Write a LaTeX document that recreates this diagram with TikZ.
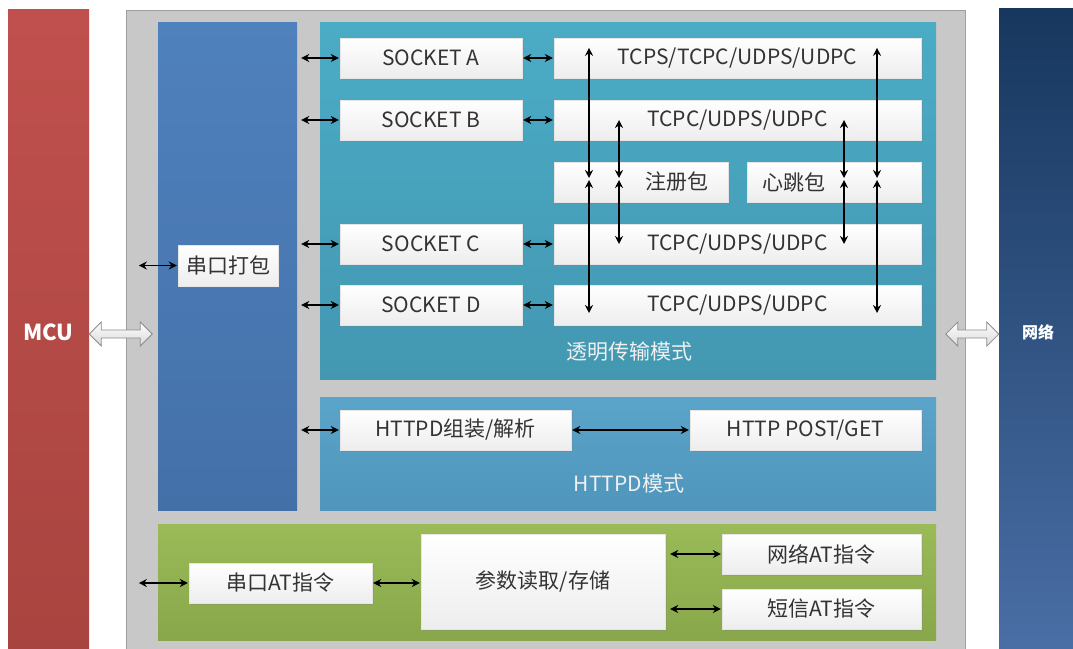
\documentclass[tikz,border=0pt]{standalone}
\usepackage{fontspec}
\setmainfont{Noto Sans CJK SC}
\usetikzlibrary{arrows.meta,calc,shadows}

\definecolor{mcuTop}{HTML}{C0504D}
\definecolor{mcuBot}{HTML}{A8443F}
\definecolor{netTop}{HTML}{17375E}
\definecolor{netBot}{HTML}{4A6FA6}
\definecolor{colTop}{HTML}{4F81BD}
\definecolor{colBot}{HTML}{4470A8}
\definecolor{transTop}{HTML}{4BACC6}
\definecolor{transBot}{HTML}{4397B1}
\definecolor{httpTop}{HTML}{5AA3C9}
\definecolor{httpBot}{HTML}{5096BC}
\definecolor{grnTop}{HTML}{9BBB59}
\definecolor{grnBot}{HTML}{87A74A}
\definecolor{unitGray}{HTML}{C8C8C8}

\begin{document}
\begin{tikzpicture}
[
x = 1pt, y = -1pt,
>={Stealth[length=8pt,width=8pt]},
sz/.style 2 args = {minimum width=#1pt, minimum height=#2pt},
link/.style = {<->, line width=1.5pt, shorten >=1pt, shorten <=1pt},
vlink/.style = {<->, line width=1.5pt},
panel/.style = {inner sep=0pt, text=white},
paneltxt/.style = {text=white!94!black, font=\fontsize{21}{24}\selectfont},
box/.style = {draw=black!10, top color=white, bottom color=black!7, text=black!80,
  inner sep=0pt, font=\fontsize{21}{24}\selectfont,
  drop shadow={opacity=0.25, shadow xshift=1.5pt, shadow yshift=-1.5pt}},
hollow/.style = {draw=black!45, line width=0.8pt, top color=white, bottom color=black!15,
  line join=miter},
]

\useasboundingbox (0,0) rectangle (1073,648);

\node[panel, top color=mcuTop, bottom color=mcuBot, sz={81}{646},
  font=\bfseries\fontsize{22}{24}\selectfont] (mcu) at (48.5,332) {MCU};
\node[panel, top color=netTop, bottom color=netBot, sz={78}{648},
  font=\bfseries\fontsize{16}{18}\selectfont] (net) at (1038,332) {网络};

\node[fill=unitGray, draw=black!38, sz={839}{650}] (unit) at (545.5,335) {};

\coordinate (mid) at (0,334);
\draw[hollow] (mcu.east |- mid) -- ++(12,-12) -- ++(0,8) -- ++(39,0) -- ++(0,-8)
  -- ++(12,12) -- ++(-12,12) -- ++(0,-8) -- ++(-39,0) -- ++(0,8) -- cycle;
\draw[hollow] (net.west |- mid) -- ++(-12,-12) -- ++(0,8) -- ++(-29,0) -- ++(0,-8)
  -- ++(-12,12) -- ++(12,12) -- ++(0,-8) -- ++(29,0) -- ++(0,8) -- cycle;

% serial packing column
\node[panel, top color=colTop, bottom color=colBot, sz={139}{488}] (col) at (227.5,266) {};
\node[box, sz={100}{41}] (pack) at (228,265.5) {串口打包};
\draw[link] ($(pack.west)+(-40,0)$) -- (pack.west);

% transparent mode
\node[panel, top color=transTop, bottom color=transBot, sz={616}{357}] (trans) at (628,200.5) {};
\node[paneltxt] (transTxt) at (629,352) {透明传输模式};

\node[box, sz={182}{40}] (sockA) at (431,58) {SOCKET A};
\node[box, sz={182}{40}] (sockB) at (431,120) {SOCKET B};
\node[box, sz={182}{40}] (sockC) at (431,244) {SOCKET C};
\node[box, sz={182}{40}] (sockD) at (431,305) {SOCKET D};

\node[box, sz={367}{40}] (tcpA) at (737.5,58) {TCPS/TCPC/UDPS/UDPC};
\node[box, sz={367}{40}] (tcpB) at (737.5,120) {TCPC/UDPS/UDPC};
\node[box, sz={367}{40}] (tcpC) at (737.5,244) {TCPC/UDPS/UDPC};
\node[box, sz={367}{40}] (tcpD) at (737.5,305) {TCPC/UDPS/UDPC};

\node[box, sz={174}{40}] (reg) at (641,182) {\hspace*{72pt}注册包};
\node[box, sz={174}{40}] (heart) at (834,182) {心跳包\hspace*{80pt}};

\draw[link] ($(col.east |- sockA)+(3,0)$) -- (sockA.west);
\draw[link] ($(col.east |- sockB)+(3,0)$) -- (sockB.west);
\draw[link] ($(col.east |- sockC)+(3,0)$) -- (sockC.west);
\draw[link] ($(col.east |- sockD)+(3,0)$) -- (sockD.west);

\draw[link] (sockA.east) -- (tcpA.west);
\draw[link] (sockB.east) -- (tcpB.west);
\draw[link] (sockC.east) -- (tcpC.west);
\draw[link] (sockD.east) -- (tcpD.west);

\coordinate (l1) at (589,0);
\coordinate (l2) at (619,0);
\coordinate (r1) at (844,0);
\coordinate (r2) at (877,0);

\draw[vlink] ($(tcpA.north -| l1)+(0,10)$) -- ($(reg.center -| l1)+(0,-4)$);
\draw[vlink] ($(reg.center -| l1)+(0,-2)$) -- ($(tcpD.center -| l1)+(0,8)$);
\draw[vlink] (tcpB.center -| l2) -- ($(reg.center -| l2)+(0,-4)$);
\draw[vlink] ($(reg.center -| l2)+(0,-2)$) -- (tcpC.center -| l2);
\draw[vlink] (tcpB.center -| r1) -- ($(heart.center -| r1)+(0,-4)$);
\draw[vlink] ($(heart.center -| r1)+(0,-2)$) -- (tcpC.center -| r1);
\draw[vlink] ($(tcpA.north -| r2)+(0,10)$) -- ($(heart.center -| r2)+(0,-4)$);
\draw[vlink] ($(heart.center -| r2)+(0,-2)$) -- ($(tcpD.center -| r2)+(0,8)$);

% httpd mode
\node[panel, top color=httpTop, bottom color=httpBot, sz={616}{113}] (http) at (628,453.5) {};
\node[paneltxt] (httpTxt) at (629,484) {HTTPD模式};
\node[box, sz={231}{40}] (hparse) at (455.5,430) {HTTPD组装/解析};
\node[box, sz={231}{40}] (hpost) at (805.5,430) {HTTP POST/GET};

\draw[link] ($(col.east |- hparse)+(3,0)$) -- (hparse.west);
\draw[link] (hparse.east) -- (hpost.west);

% AT commands
\node[panel, top color=grnTop, bottom color=grnBot, sz={778}{116}] (atcmd) at (547,582) {};
\node[box, sz={183}{40}] (serAt) at (280.5,583) {串口AT指令};
\node[box, sz={244}{95}] (param) at (543,581.5) {参数读取/存储};
\node[box, sz={199}{40}] (netAt) at (821.5,554) {网络AT指令};
\node[box, sz={199}{40}] (smsAt) at (821.5,609) {短信AT指令};

\draw[link] ($(serAt.west)+(-51,0)$) -- (serAt.west);
\draw[link] (serAt.east) -- (serAt.east -| param.west);
\draw[link] ($(param.east |- netAt)+(4,0)$) -- (netAt.west);
\draw[link] ($(param.east |- smsAt)+(4,0)$) -- (smsAt.west);
\end{tikzpicture}
\end{document}
